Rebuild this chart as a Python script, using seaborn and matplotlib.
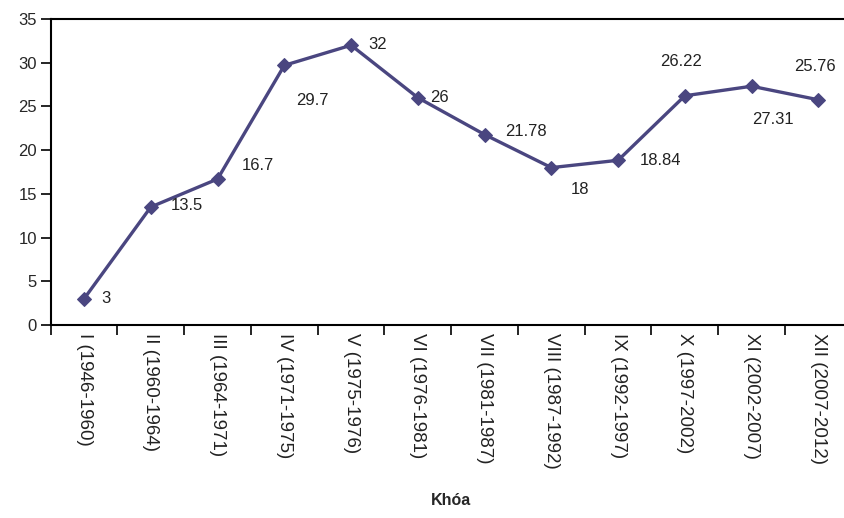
import seaborn as sns
import matplotlib.pyplot as plt
import pandas as pd
from matplotlib.ticker import FixedLocator

khoa = ["I (1946-1960)", "II (1960-1964)", "III (1964-1971)", "IV (1971-1975)",
        "V (1975-1976)", "VI (1976-1981)", "VII (1981-1987)", "VIII (1987-1992)",
        "IX (1992-1997)", "X (1997-2002)", "XI (2002-2007)", "XII (2007-2012)"]
values = [3, 13.5, 16.7, 29.7, 32, 26, 21.78, 18, 18.84, 26.22, 27.31, 25.76]
value_labels = ["3", "13.5", "16.7", "29.7", "32", "26", "21.78", "18",
                "18.84", "26.22", "27.31", "25.76"]

# label offsets in pixels (dx, dy) relative to the point
offsets = [(22, 0), (36, 1), (40, 13), (28, -35), (27, 1), (22, 0),
           (41, 3), (29, -22), (42, 0), (-4, 34), (21, -33), (-3, 33)]

df = pd.DataFrame({"Khóa": khoa, "value": values})

sns.set_style("white")
plt.rcParams["font.family"] = ["Liberation Sans Narrow", "Liberation Sans", "DejaVu Sans"]

fig = plt.figure(figsize=(8.45, 5.18), dpi=100)
ax = fig.add_axes([0.06, 0.3726, 0.948, 0.5907])

line_color = "#4a4680"
sns.lineplot(data=df, x="Khóa", y="value", ax=ax, color=line_color, linewidth=2.4,
             marker="D", markersize=7, markeredgecolor=line_color, sort=False)

for i, (v, lab) in enumerate(zip(values, value_labels)):
    ax.annotate(lab, (i, v), xytext=offsets[i], textcoords="offset pixels",
                ha="center", va="center", fontsize=12, color="#222222")

ax.set_xlim(-0.5, 11.5)
ax.set_ylim(0, 35)
ax.set_yticks(range(0, 36, 5))
ax.set_xticks(range(len(khoa)))
ax.set_xticklabels(khoa, rotation=-90, ha="center", va="top", fontsize=13.5, color="#222222")
ax.xaxis.set_minor_locator(FixedLocator([i - 0.5 for i in range(len(khoa) + 1)]))
ax.tick_params(axis="x", which="major", length=0, pad=6)
ax.tick_params(axis="x", which="minor", length=7, width=1.2, color="black", direction="out", bottom=True)
ax.tick_params(axis="y", length=7, width=1.2, color="black", direction="out", left=True, labelsize=12, pad=3)

for side in ["left", "bottom", "top"]:
    ax.spines[side].set_color("black")
    ax.spines[side].set_linewidth(1.5)
ax.spines["right"].set_visible(False)

ax.set_ylabel("")
ax.set_xlabel("Khóa", fontsize=11.5, fontweight="bold", labelpad=17)

fig.savefig("out.png", dpi=100)
